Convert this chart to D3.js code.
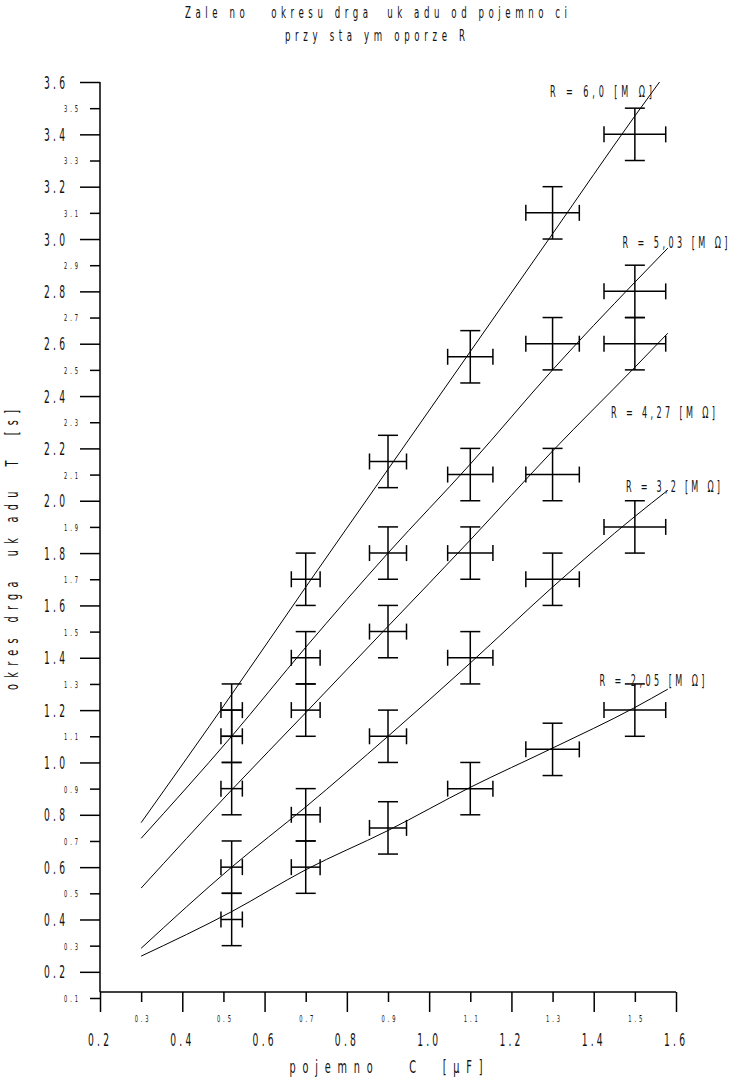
<!DOCTYPE html>
<html>
<head>
<meta charset="utf-8">
<script src="https://cdn.jsdelivr.net/npm/d3@7.9.0/dist/d3.min.js"></script>
<style>
  body { margin: 0; background: #fff; }
  svg { display: block; }
  text { font-family: "DejaVu Sans Condensed", "DejaVu Sans", sans-serif; fill: #111; white-space: pre; }
</style>
</head>
<body>
<svg id="chart" width="730" height="1079"></svg>
<script>
// measured capacitances C [uF] and their errors
const capacitance = [0.52, 0.70, 0.90, 1.10, 1.30, 1.50];
const capError = [0.026, 0.035, 0.045, 0.055, 0.065, 0.075];
const periodError = 0.1;

// measured periods T [s], one list per resistance
const seriesNames = ['R = 6,0 [M Ω]', 'R = 5,03 [M Ω]', 'R = 4,27 [M Ω]', 'R = 3,2 [M Ω]', 'R = 2,05 [M Ω]'];
const periodR60 = [1.2, 1.7, 2.15, 2.55, 3.1, 3.4];
const periodR503 = [1.1, 1.4, 1.8, 2.1, 2.6, 2.8];
const periodR427 = [0.9, 1.2, 1.5, 1.8, 2.1, 2.6];
const periodR32 = [0.6, 0.8, 1.1, 1.4, 1.7, 1.9];
const periodR205 = [0.4, 0.6, 0.75, 0.9, 1.05, 1.2];

// fitted curves as [C, T]
const fitR60 = [[0.30, 0.77], [0.52, 1.26], [0.70, 1.67], [0.90, 2.12], [1.10, 2.57], [1.30, 3.02], [1.50, 3.47], [1.56, 3.60]];
const fitR503 = [[0.30, 0.71], [0.52, 1.10], [0.70, 1.44], [0.90, 1.80], [1.10, 2.14], [1.30, 2.50], [1.50, 2.835], [1.58, 2.965]];
const fitR427 = [[0.30, 0.52], [0.52, 0.895], [0.70, 1.19], [0.90, 1.52], [1.10, 1.85], [1.30, 2.19], [1.50, 2.51], [1.58, 2.64]];
const fitR32 = [[0.30, 0.29], [0.52, 0.60], [0.70, 0.83], [0.90, 1.10], [1.10, 1.38], [1.30, 1.67], [1.50, 1.94], [1.58, 2.04]];
const fitR205 = [[0.30, 0.26], [0.52, 0.43], [0.70, 0.59], [0.90, 0.74], [1.10, 0.905], [1.30, 1.055], [1.50, 1.21], [1.58, 1.28]];

// tick labels
const xMajorTicks = [0.2, 0.4, 0.6, 0.8, 1.0, 1.2, 1.4, 1.6];
const xMinorTicks = [0.3, 0.5, 0.7, 0.9, 1.1, 1.3, 1.5];
const yMajorTicks = [0.2, 0.4, 0.6, 0.8, 1.0, 1.2, 1.4, 1.6, 1.8, 2.0, 2.2, 2.4, 2.6, 2.8, 3.0, 3.2, 3.4, 3.6];
const yMinorTicks = [0.1, 0.3, 0.5, 0.7, 0.9, 1.1, 1.3, 1.5, 1.7, 1.9, 2.1, 2.3, 2.5, 2.7, 2.9, 3.1, 3.3, 3.5];

const titleLines = ['Zale no   okresu drga  uk adu od pojemno ci', 'przy sta ym oporze R'];
const xTitle = 'pojemno   C  [µF]';
const yTitle = 'okres drga  uk adu  T  [s]';

const series = [periodR60, periodR503, periodR427, periodR32, periodR205];
const fits = [fitR60, fitR503, fitR427, fitR32, fitR205];

const svg = d3.select('#chart');
const x = d3.scaleLinear().domain([0.2, 1.6]).range([100, 676]);
const y = d3.scaleLinear().domain([0.1, 3.6]).range([998, 82]);
const axisY0 = y(0.1) - 6; // x axis sits a little above the 0.1 tick
const SX = 0.6; // horizontal squeeze for the narrow plotter lettering

// squeeze text horizontally, keeping its anchor x, optionally forcing its width
function squeeze(sel, width) {
    sel.each(function () {
        const t = d3.select(this);
        const x0 = +t.attr('x') || 0;
        t.attr('x', x0 / SX).attr('transform', `scale(${SX},1)`);
        if (width) t.attr('textLength', width / SX).attr('lengthAdjust', 'spacing');
    });
}

function styleAxis(g) {
    g.attr('font-family', null).attr('font-size', null);
    g.select('.domain').remove();
    g.selectAll('line').attr('stroke', '#000').attr('stroke-width', 1.5);
}

// y axis: long ticks with big labels, short ticks with small labels
const gYMaj = svg.append('g').attr('transform', `translate(${x(0.2)},0)`)
    .call(d3.axisLeft(y).tickValues(yMajorTicks).tickSize(20).tickPadding(15).tickFormat(d3.format('.1f')));
styleAxis(gYMaj);
gYMaj.selectAll('text').attr('font-size', 17).attr('dy', '0.36em');
squeeze(gYMaj.selectAll('text'), 21);

const gYMin = svg.append('g').attr('transform', `translate(${x(0.2)},0)`)
    .call(d3.axisLeft(y).tickValues(yMinorTicks).tickSize(10).tickPadding(12).tickFormat(d3.format('.1f')));
styleAxis(gYMin);
gYMin.selectAll('text').attr('font-size', 9.5).attr('dy', '0.36em');
squeeze(gYMin.selectAll('text'), 14);

// x axis
const gXMaj = svg.append('g').attr('transform', `translate(0,${axisY0})`)
    .call(d3.axisBottom(x).tickValues(xMajorTicks).tickSize(20).tickFormat(d3.format('.1f')));
styleAxis(gXMaj);
gXMaj.selectAll('text').attr('font-size', 17).attr('y', 54).attr('dy', 0).attr('x', -2);
squeeze(gXMaj.selectAll('text'), 21);

const gXMin = svg.append('g').attr('transform', `translate(0,${axisY0})`)
    .call(d3.axisBottom(x).tickValues(xMinorTicks).tickSize(10).tickFormat(d3.format('.1f')));
styleAxis(gXMin);
gXMin.selectAll('text').attr('font-size', 9.5).attr('y', 30).attr('dy', 0);
squeeze(gXMin.selectAll('text'), 14);

// axis lines
svg.append('line')
    .attr('x1', x(0.2)).attr('x2', x(0.2)).attr('y1', y(3.6)).attr('y2', axisY0)
    .attr('stroke', '#000').attr('stroke-width', 1.5);
svg.append('line')
    .attr('x1', x(0.2)).attr('x2', x(1.6)).attr('y1', axisY0).attr('y2', axisY0)
    .attr('stroke', '#000').attr('stroke-width', 1.5);

// fitted curves
const line = d3.line().x(d => x(d[0])).y(d => y(d[1])).curve(d3.curveMonotoneX);
svg.append('g').selectAll('path').data(fits).join('path')
    .attr('d', line).attr('fill', 'none').attr('stroke', '#000').attr('stroke-width', 1);

// error crosses
const bars = svg.append('g').attr('stroke', '#000').attr('stroke-width', 1.5);
series.forEach(vals => {
    vals.forEach((t, i) => {
        const cx = x(capacitance[i]), cy = y(t);
        const top = y(t + periodError), bot = y(t - periodError);
        const left = x(capacitance[i] - capError[i]), right = x(capacitance[i] + capError[i]);
        bars.append('line').attr('x1', cx).attr('x2', cx).attr('y1', top).attr('y2', bot);
        bars.append('line').attr('x1', cx - 10).attr('x2', cx + 10).attr('y1', top).attr('y2', top);
        bars.append('line').attr('x1', cx - 10).attr('x2', cx + 10).attr('y1', bot).attr('y2', bot);
        bars.append('line').attr('x1', left).attr('x2', right).attr('y1', cy).attr('y2', cy);
        bars.append('line').attr('x1', left).attr('x2', left).attr('y1', cy - 8).attr('y2', cy + 8);
        bars.append('line').attr('x1', right).attr('x2', right).attr('y1', cy - 8).attr('y2', cy + 8);
    });
});

// series labels: centre x, baseline y, width
const labelPos = [[601, 97, 102], [675, 248, 105], [663, 418, 104], [673, 492, 94], [652, 686, 105]];
seriesNames.forEach((name, i) => {
    const [lx, ly, w] = labelPos[i];
    const t = svg.append('text').attr('x', lx).attr('y', ly)
        .attr('text-anchor', 'middle').attr('font-size', 15).text(name);
    squeeze(t, w);
});

// titles
const t1 = svg.append('text').attr('x', 376).attr('y', 18).attr('text-anchor', 'middle').attr('font-size', 16).text(titleLines[0]);
squeeze(t1, 382);
const t2 = svg.append('text').attr('x', 375).attr('y', 41).attr('text-anchor', 'middle').attr('font-size', 16).text(titleLines[1]);
squeeze(t2, 180);

const tx = svg.append('text').attr('x', 386).attr('y', 1073).attr('text-anchor', 'middle').attr('font-size', 18).text(xTitle);
squeeze(tx, 193);

svg.append('text')
    .attr('transform', `translate(18,550) rotate(-90) scale(${SX},1)`)
    .attr('text-anchor', 'middle').attr('font-size', 18)
    .attr('textLength', 280 / SX).attr('lengthAdjust', 'spacing')
    .text(yTitle);
</script>
</body>
</html>
